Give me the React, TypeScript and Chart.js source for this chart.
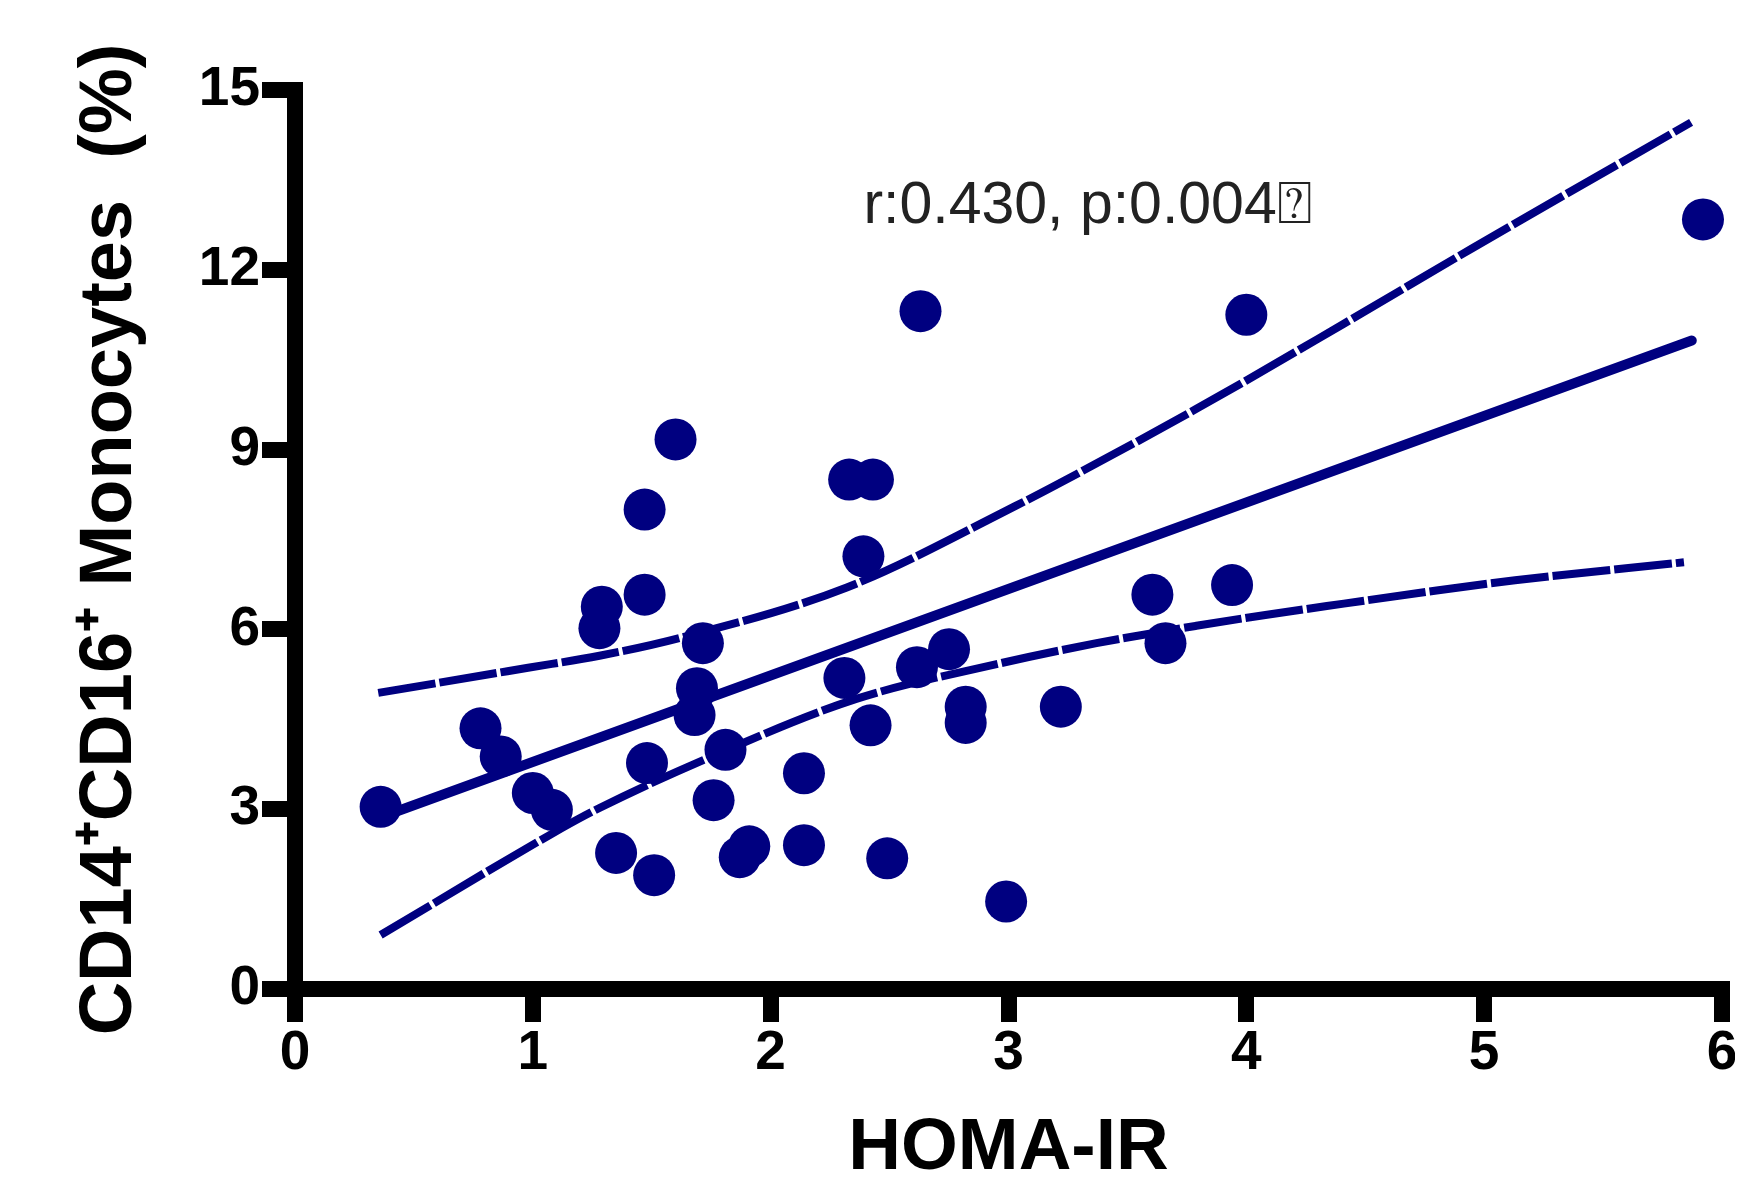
import React, { useEffect, useRef } from "react";
import { Chart, registerables } from "chart.js";

Chart.register(...registerables);

// ---- data ----
const homaIR = [0.36, 0.78, 0.865, 1.0, 1.08, 1.28, 1.29, 1.35, 1.47, 1.47, 1.48, 1.51, 1.6, 1.715, 1.69, 1.68, 1.81, 1.76, 1.87, 1.91, 2.14, 2.14, 2.31, 2.33, 2.43, 2.39, 2.42, 2.49, 2.615, 2.63, 2.75, 2.82, 2.82, 2.99, 3.22, 3.605, 3.66, 3.94, 4.0, 5.92];
const monocytes = [3.04, 4.35, 3.88, 3.27, 2.99, 6.02, 6.38, 2.27, 8.0, 6.58, 3.77, 1.9, 9.17, 5.77, 5.02, 4.57, 3.99, 3.15, 2.2, 2.38, 3.6, 2.4, 5.19, 8.5, 8.5, 7.22, 4.4, 2.18, 5.37, 11.31, 5.67, 4.71, 4.44, 1.46, 4.71, 6.58, 5.77, 6.74, 11.25, 12.84];

const fitX = [0.363, 5.873];
const fitY = [2.87, 10.82];

const upperX = [0.35, 0.98, 1.28, 1.62, 2.32, 3.03, 3.21, 3.79, 4.41, 4.95, 5.87];
const upperY = [4.94, 5.36, 5.56, 5.86, 6.7, 8.06, 8.43, 9.68, 11.1, 12.36, 14.46];

const lowerX = [0.36, 1.12, 1.28, 1.74, 2.36, 2.95, 3.37, 3.79, 4.08, 4.41, 4.8, 5.13, 5.84];
const lowerY = [0.9, 2.68, 3.02, 3.86, 4.84, 5.42, 5.77, 6.06, 6.24, 6.43, 6.65, 6.82, 7.12];

const xTicks = [0, 1, 2, 3, 4, 5, 6];
const yTicks = [0, 3, 6, 9, 12, 15];

const xTitle = "HOMA-IR";
const yTitle = "CD14\u207ACD16\u207A Monocytes  (%)";
const statsText = "r:0.430, p:0.004\u2370";
const statsAnchor = { x: 2.39, y: 13.05 };

const NAVY = "#000080";
const FONT = '"Liberation Sans", Arial, sans-serif';

const pts = (xs: number[], ys: number[]) => xs.map((x, i) => ({ x, y: ys[i] }));

const statsPlugin = {
  id: "statsText",
  afterDatasetsDraw(chart: any) {
    const { ctx, scales } = chart;
    ctx.save();
    ctx.font = `59px ${FONT}`;
    ctx.fillStyle = "#222222";
    ctx.textAlign = "left";
    ctx.textBaseline = "middle";
    ctx.fillText(
      statsText,
      scales.x.getPixelForValue(statsAnchor.x),
      scales.y.getPixelForValue(statsAnchor.y)
    );
    ctx.restore();
  },
};

export default function App() {
  const ref = useRef<HTMLCanvasElement | null>(null);

  useEffect(() => {
    if (!ref.current) return;
    const axisGrid = {
      drawOnChartArea: false,
      drawTicks: true,
      tickLength: 33,
      tickWidth: 16,
      tickColor: "#000",
      lineWidth: 16,
      color: "#000",
    };
    const axisBorder = { display: true, width: 16, color: "#000" };
    const tickFont = { family: FONT, size: 55, weight: "bold" as const, lineHeight: 1 };

    const band = (xs: number[], ys: number[], label: string) =>
      ({
        label,
        data: pts(xs, ys),
        showLine: true,
        pointRadius: 0,
        borderColor: NAVY,
        borderWidth: 8,
        borderDash: [58, 4],
        cubicInterpolationMode: "monotone",
        clip: false,
      } as any);

    const chart = new Chart(ref.current, {
      type: "scatter",
      data: {
        datasets: [
          {
            label: "points",
            data: pts(homaIR, monocytes),
            pointRadius: 21,
            pointBackgroundColor: NAVY,
            pointBorderWidth: 0,
            backgroundColor: NAVY,
            borderColor: NAVY,
            clip: false,
          } as any,
          {
            label: "fit",
            data: pts(fitX, fitY),
            showLine: true,
            pointRadius: 0,
            borderColor: NAVY,
            borderWidth: 10,
            borderCapStyle: "round",
            clip: false,
          } as any,
          band(upperX, upperY, "upper"),
          band(lowerX, lowerY, "lower"),
        ],
      },
      options: {
        animation: false,
        responsive: false,
        maintainAspectRatio: false,
        devicePixelRatio: 1,
        layout: { padding: { left: 0, top: 90, right: 14, bottom: 0 } },
        plugins: {
          legend: { display: false },
          tooltip: { enabled: false },
        },
        scales: {
          x: {
            type: "linear",
            min: 0,
            max: 6,
            afterBuildTicks: (s: any) => {
              s.ticks = xTicks.map((value) => ({ value }));
            },
            afterFit: (s: any) => {
              s.height = 196;
              s.paddingLeft = 0;
              s.paddingRight = 0;
            },
            grid: axisGrid,
            border: axisBorder,
            ticks: {
              color: "#000",
              font: tickFont,
              padding: 4,
              maxRotation: 0,
              autoSkip: false,
            },
            title: {
              display: true,
              text: xTitle,
              color: "#000",
              font: { family: FONT, size: 73, weight: "bold", lineHeight: 1 },
              padding: { top: 0, bottom: 0 },
            },
          },
          y: {
            type: "linear",
            min: 0,
            max: 15,
            afterBuildTicks: (s: any) => {
              s.ticks = yTicks.map((value) => ({ value }));
            },
            afterFit: (s: any) => {
              s.width = 295;
            },
            grid: axisGrid,
            border: axisBorder,
            ticks: {
              color: "#000",
              font: tickFont,
              padding: 2,
              autoSkip: false,
            },
            title: {
              display: true,
              text: yTitle,
              color: "#000",
              font: { family: FONT, size: 74, weight: "bold", lineHeight: 1 },
              padding: { top: 74, bottom: 0 },
            },
          },
        },
      } as any,
      plugins: [statsPlugin],
    });
    return () => chart.destroy();
  }, []);

  return (
    <div style={{ margin: "-8px", width: 1743, height: 1185, overflow: "hidden", background: "#fff" }}>
      <canvas ref={ref} width={1743} height={1185} style={{ display: "block", width: 1743, height: 1185 }} />
    </div>
  );
}
